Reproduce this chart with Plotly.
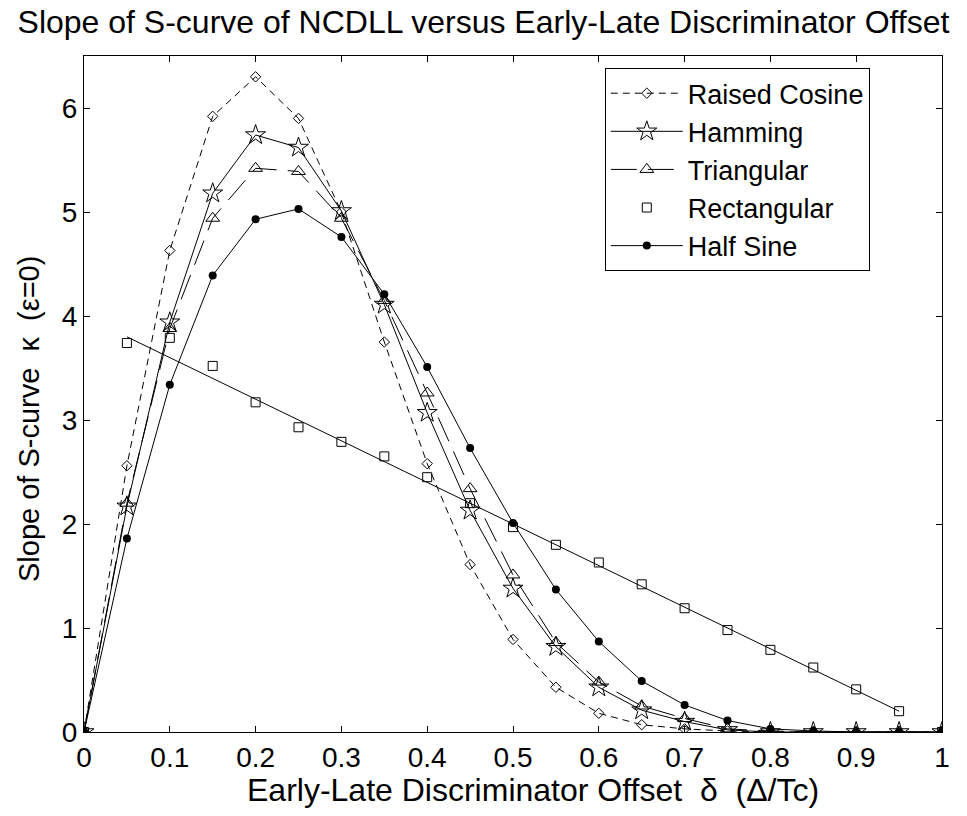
import plotly.graph_objects as go

delta = [0, 0.05, 0.1, 0.15, 0.2, 0.25, 0.3, 0.35, 0.4, 0.45, 0.5,
         0.55, 0.6, 0.65, 0.7, 0.75, 0.8, 0.85, 0.9, 0.95, 1.0]

raised_cosine = [0, 2.56, 4.63, 5.92, 6.30, 5.90, 5.00, 3.75, 2.58, 1.61, 0.89,
                 0.43, 0.18, 0.07, 0.03, 0.01, 0, 0, 0, 0, 0]
hamming = [0, 2.17, 3.94, 5.18, 5.74, 5.62, 5.01, 4.11, 3.07, 2.13, 1.38,
           0.82, 0.43, 0.21, 0.10, 0.02, 0, 0, 0, 0, 0]
triangular = [0, 2.20, 3.88, 4.94, 5.42, 5.39, 4.94, 4.15, 3.26, 2.34, 1.51,
              0.86, 0.48, 0.25, 0.13, 0.03, 0.01, 0, 0, 0, 0]
rectangular = [0, 3.74, 3.79, 3.52, 3.17, 2.93, 2.79, 2.65, 2.45, 2.20, 1.97,
               1.80, 1.63, 1.42, 1.19, 0.98, 0.79, 0.62, 0.41, 0.20, 0]
half_sine = [0, 1.86, 3.34, 4.39, 4.93, 5.03, 4.76, 4.21, 3.51, 2.73, 2.01,
             1.37, 0.87, 0.49, 0.26, 0.11, 0.03, 0.01, 0, 0, 0]

rect_theory_x = [0.05, 0.95]
rect_theory_y = [3.8, 0.2]

x_ticks = [0, 0.1, 0.2, 0.3, 0.4, 0.5, 0.6, 0.7, 0.8, 0.9, 1]
x_tick_labels = ["0", "0.1", "0.2", "0.3", "0.4", "0.5", "0.6", "0.7", "0.8", "0.9", "1"]
y_ticks = [0, 1, 2, 3, 4, 5, 6]

title_text = "Slope of S-curve of NCDLL versus Early-Late Discriminator Offset"
x_title_text = "Early-Late Discriminator Offset  δ  (Δ/Tc)"
y_title_text = "Slope of S-curve  κ  (ε=0)"

FONT = "Liberation Sans, Arial, sans-serif"
BLACK = "black"

fig = go.Figure()

fig.add_trace(go.Scatter(
    x=delta, y=raised_cosine, name="Raised Cosine", mode="lines+markers",
    line=dict(color=BLACK, width=1, dash="7px,5px"),
    marker=dict(symbol="diamond-open", size=8, color=BLACK, line=dict(width=1, color=BLACK)),
))
fig.add_trace(go.Scatter(
    x=delta, y=hamming, name="Hamming", mode="lines+markers",
    line=dict(color=BLACK, width=1),
    marker=dict(symbol="star-open", size=15, color=BLACK, line=dict(width=1, color=BLACK)),
))
fig.add_trace(go.Scatter(
    x=delta, y=triangular, name="Triangular", mode="lines+markers",
    line=dict(color=BLACK, width=1, dash="26px,11px"),
    marker=dict(symbol="triangle-up-open", size=12, color=BLACK, line=dict(width=1, color=BLACK)),
))
fig.add_trace(go.Scatter(
    x=rect_theory_x, y=rect_theory_y, mode="lines", showlegend=False, hoverinfo="skip",
    line=dict(color=BLACK, width=1),
))
fig.add_trace(go.Scatter(
    x=delta, y=rectangular, name="Rectangular", mode="markers",
    marker=dict(symbol="square-open", size=9, color=BLACK, line=dict(width=1, color=BLACK)),
))
fig.add_trace(go.Scatter(
    x=delta, y=half_sine, name="Half Sine", mode="lines+markers",
    line=dict(color=BLACK, width=1),
    marker=dict(symbol="circle", size=8, color=BLACK),
))

axis_common = dict(
    showline=True, linecolor=BLACK, linewidth=1, mirror="ticks",
    ticks="inside", ticklen=6, tickcolor=BLACK, tickwidth=1,
    showgrid=False, zeroline=False,
    tickfont=dict(family=FONT, size=28, color=BLACK),
)

fig.update_layout(
    width=967, height=816,
    paper_bgcolor="white", plot_bgcolor="white",
    margin=dict(l=84, r=25, t=56, b=84),
    font=dict(family=FONT, color=BLACK),
    title=dict(text=title_text, x=0.5, xanchor="center", y=0.973, yanchor="middle",
               font=dict(family=FONT, size=32, color=BLACK)),
    xaxis=dict(range=[0, 1], tickvals=x_ticks, ticktext=x_tick_labels, **axis_common),
    yaxis=dict(range=[0, 6.5], tickvals=y_ticks, **axis_common),
    legend=dict(x=0.607, y=0.982, xanchor="left", yanchor="top",
                bgcolor="white", bordercolor=BLACK, borderwidth=1,
                font=dict(family=FONT, size=27, color=BLACK),
                itemwidth=72, tracegroupgap=0),
    showlegend=True,
    annotations=[
        dict(text=x_title_text, xref="paper", yref="paper", x=0.523, y=-0.0858,
             xanchor="center", yanchor="middle", showarrow=False,
             font=dict(family=FONT, size=32, color=BLACK)),
        dict(text=y_title_text, xref="paper", yref="paper", x=-0.0641, y=0.463,
             xanchor="center", yanchor="middle", showarrow=False, textangle=-90,
             font=dict(family=FONT, size=29, color=BLACK)),
    ],
)

fig.write_html("out.html")
